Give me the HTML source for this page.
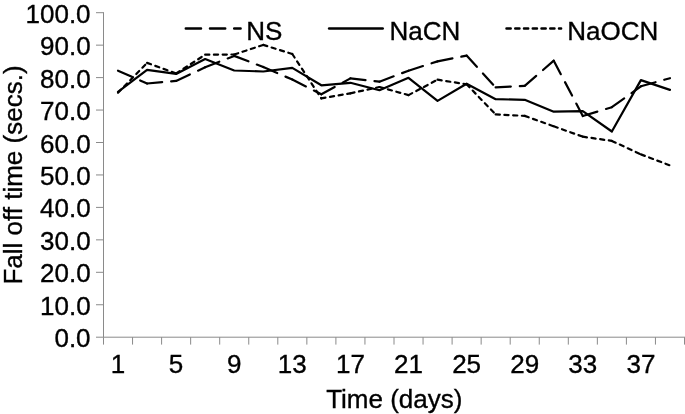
<!DOCTYPE html>
<html><head><meta charset="utf-8"><title>Fall off time</title>
<style>
html,body{margin:0;padding:0;background:#fff;}
svg{display:block;}
text{font-family:"Liberation Sans",sans-serif;font-size:26px;fill:#000;stroke:#000;stroke-width:0.35px;}
</style></head>
<body>
<svg width="685" height="414" viewBox="0 0 685 414">
<rect width="685" height="414" fill="#fff"/>
<g stroke="#8a8a8a" stroke-width="1" fill="none">
<line x1="103.5" y1="12.2" x2="103.5" y2="337.2"/>
<line x1="103.5" y1="337.2" x2="685" y2="337.2"/>
<line x1="96" y1="337.20" x2="103.5" y2="337.20"/><line x1="96" y1="304.75" x2="103.5" y2="304.75"/><line x1="96" y1="272.30" x2="103.5" y2="272.30"/><line x1="96" y1="239.85" x2="103.5" y2="239.85"/><line x1="96" y1="207.40" x2="103.5" y2="207.40"/><line x1="96" y1="174.95" x2="103.5" y2="174.95"/><line x1="96" y1="142.50" x2="103.5" y2="142.50"/><line x1="96" y1="110.05" x2="103.5" y2="110.05"/><line x1="96" y1="77.60" x2="103.5" y2="77.60"/><line x1="96" y1="45.15" x2="103.5" y2="45.15"/><line x1="96" y1="12.70" x2="103.5" y2="12.70"/>
<line x1="103.50" y1="337.2" x2="103.50" y2="344.6"/><line x1="132.55" y1="337.2" x2="132.55" y2="344.6"/><line x1="161.60" y1="337.2" x2="161.60" y2="344.6"/><line x1="190.65" y1="337.2" x2="190.65" y2="344.6"/><line x1="219.70" y1="337.2" x2="219.70" y2="344.6"/><line x1="248.75" y1="337.2" x2="248.75" y2="344.6"/><line x1="277.80" y1="337.2" x2="277.80" y2="344.6"/><line x1="306.85" y1="337.2" x2="306.85" y2="344.6"/><line x1="335.90" y1="337.2" x2="335.90" y2="344.6"/><line x1="364.95" y1="337.2" x2="364.95" y2="344.6"/><line x1="394.00" y1="337.2" x2="394.00" y2="344.6"/><line x1="423.05" y1="337.2" x2="423.05" y2="344.6"/><line x1="452.10" y1="337.2" x2="452.10" y2="344.6"/><line x1="481.15" y1="337.2" x2="481.15" y2="344.6"/><line x1="510.20" y1="337.2" x2="510.20" y2="344.6"/><line x1="539.25" y1="337.2" x2="539.25" y2="344.6"/><line x1="568.30" y1="337.2" x2="568.30" y2="344.6"/><line x1="597.35" y1="337.2" x2="597.35" y2="344.6"/><line x1="626.40" y1="337.2" x2="626.40" y2="344.6"/><line x1="655.45" y1="337.2" x2="655.45" y2="344.6"/><line x1="684.50" y1="337.2" x2="684.50" y2="344.6"/>
</g>
<g><text x="90.6" y="347.20" text-anchor="end">0.0</text><text x="90.6" y="314.75" text-anchor="end">10.0</text><text x="90.6" y="282.30" text-anchor="end">20.0</text><text x="90.6" y="249.85" text-anchor="end">30.0</text><text x="90.6" y="217.40" text-anchor="end">40.0</text><text x="90.6" y="184.95" text-anchor="end">50.0</text><text x="90.6" y="152.50" text-anchor="end">60.0</text><text x="90.6" y="120.05" text-anchor="end">70.0</text><text x="90.6" y="87.60" text-anchor="end">80.0</text><text x="90.6" y="55.15" text-anchor="end">90.0</text><text x="90.6" y="22.70" text-anchor="end">100.0</text></g>
<g><text x="118.00" y="372.6" text-anchor="middle">1</text><text x="176.10" y="372.6" text-anchor="middle">5</text><text x="234.20" y="372.6" text-anchor="middle">9</text><text x="292.30" y="372.6" text-anchor="middle">13</text><text x="350.40" y="372.6" text-anchor="middle">17</text><text x="408.50" y="372.6" text-anchor="middle">21</text><text x="466.60" y="372.6" text-anchor="middle">25</text><text x="524.70" y="372.6" text-anchor="middle">29</text><text x="582.80" y="372.6" text-anchor="middle">33</text><text x="640.90" y="372.6" text-anchor="middle">37</text></g>
<text x="394.3" y="407.8" text-anchor="middle">Time (days)</text>
<text transform="translate(22.1,175) rotate(-90)" text-anchor="middle">Fall off time (secs.)</text>
<g stroke="#000" stroke-width="2.2" fill="none" stroke-linejoin="round" stroke-linecap="round">
<g stroke-dasharray="15.2 9"><line x1="118.00" y1="70.7" x2="147.05" y2="83.5"/><line x1="147.05" y1="83.5" x2="176.10" y2="80.9"/><line x1="176.10" y1="80.9" x2="205.15" y2="67.3"/><line x1="205.15" y1="67.3" x2="234.20" y2="55.9"/><line x1="234.20" y1="55.9" x2="263.25" y2="67.0"/><line x1="263.25" y1="67.0" x2="292.30" y2="79.6"/><line x1="292.30" y1="79.6" x2="321.35" y2="94.3"/><line x1="321.35" y1="94.3" x2="350.40" y2="78.4"/><line x1="350.40" y1="78.4" x2="379.45" y2="81.7"/><line x1="379.45" y1="81.7" x2="408.50" y2="70.7"/><line x1="408.50" y1="70.7" x2="437.55" y2="61.4"/><line x1="437.55" y1="61.4" x2="466.60" y2="55.6"/><line x1="466.60" y1="55.6" x2="495.65" y2="87.4"/><line x1="495.65" y1="87.4" x2="524.70" y2="85.8"/><line x1="524.70" y1="85.8" x2="553.75" y2="60.7"/><line x1="553.75" y1="60.7" x2="582.80" y2="116.0"/><line x1="582.80" y1="116.0" x2="611.85" y2="107.2"/><line x1="611.85" y1="107.2" x2="640.90" y2="86.3"/><line x1="640.90" y1="86.3" x2="669.95" y2="78.2"/></g>
<polyline points="118.00,91.8 147.05,69.9 176.10,73.9 205.15,59.1 234.20,70.5 263.25,71.5 292.30,67.9 321.35,85.3 350.40,82.8 379.45,90.2 408.50,77.8 437.55,100.9 466.60,83.7 495.65,99.2 524.70,99.8 553.75,111.7 582.80,111.2 611.85,131.5 640.90,80.1 669.95,89.9"/>
<g stroke-dasharray="4.2 4.55"><line x1="118.00" y1="92.8" x2="147.05" y2="62.9"/><line x1="147.05" y1="62.9" x2="176.10" y2="73.5"/><line x1="176.10" y1="73.5" x2="205.15" y2="54.7"/><line x1="205.15" y1="54.7" x2="234.20" y2="54.5"/><line x1="234.20" y1="54.5" x2="263.25" y2="44.9"/><line x1="263.25" y1="44.9" x2="292.30" y2="54.0"/><line x1="292.30" y1="54.0" x2="321.35" y2="98.4"/><line x1="321.35" y1="98.4" x2="350.40" y2="93.3"/><line x1="350.40" y1="93.3" x2="379.45" y2="87.0"/><line x1="379.45" y1="87.0" x2="408.50" y2="95.1"/><line x1="408.50" y1="95.1" x2="437.55" y2="79.7"/><line x1="437.55" y1="79.7" x2="466.60" y2="84.3"/><line x1="466.60" y1="84.3" x2="495.65" y2="114.4"/><line x1="495.65" y1="114.4" x2="524.70" y2="115.9"/><line x1="524.70" y1="115.9" x2="553.75" y2="126.3"/><line x1="553.75" y1="126.3" x2="582.80" y2="136.7"/><line x1="582.80" y1="136.7" x2="611.85" y2="140.9"/><line x1="611.85" y1="140.9" x2="640.90" y2="154.4"/><line x1="640.90" y1="154.4" x2="669.95" y2="165.4"/></g>
<g stroke-width="2.5"><line x1="185.8" y1="28.5" x2="240.6" y2="28.5" stroke-dasharray="15.2 9"/>
<line x1="329.1" y1="28.5" x2="382.7" y2="28.5"/>
<line x1="506.5" y1="28.5" x2="561.1" y2="28.5" stroke-dasharray="4.2 4.55"/></g>
</g>
<text x="246.3" y="39.6">NS</text>
<text x="389.5" y="39.6">NaCN</text>
<text x="567.2" y="39.6">NaOCN</text>
</svg>
</body></html>
